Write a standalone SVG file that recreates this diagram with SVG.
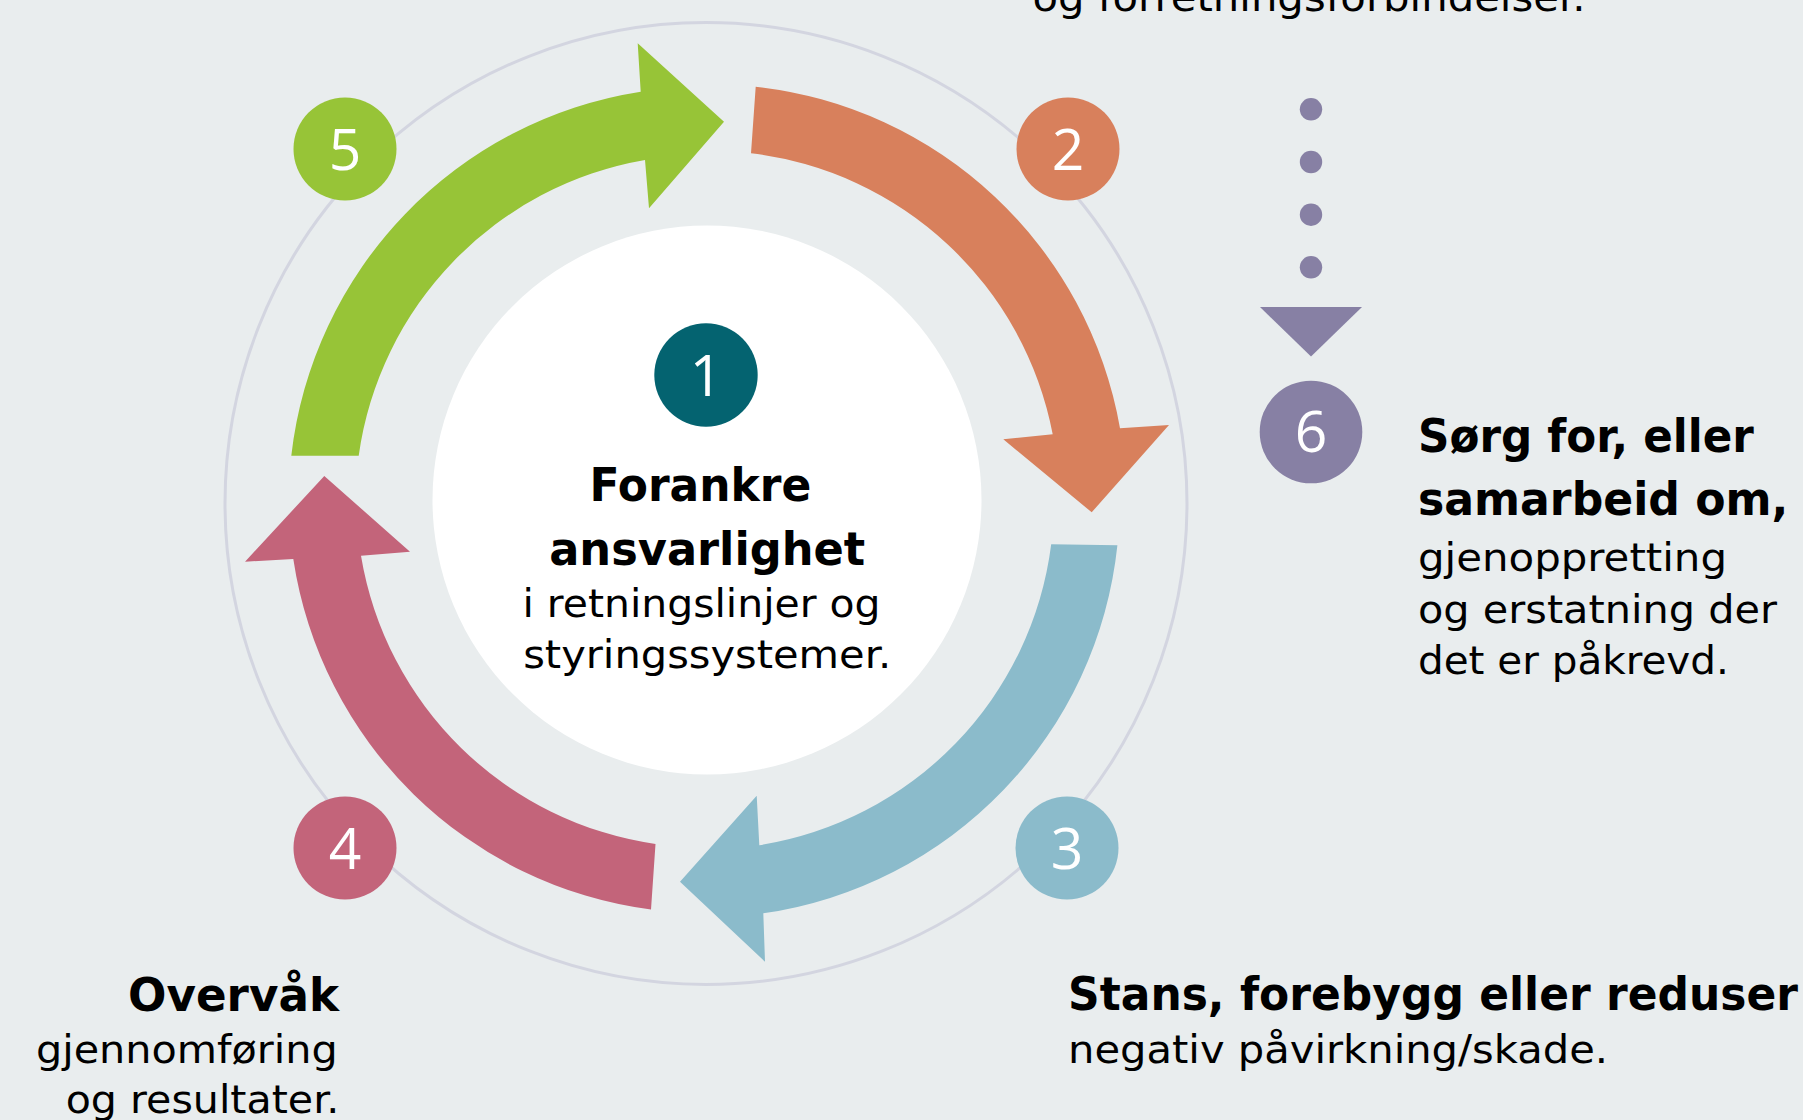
<svg xmlns="http://www.w3.org/2000/svg" width="1803" height="1120" viewBox="0 0 1803 1120">
  <style>
    .bg { fill: #E9EDEE; }
    .ring { fill: none; stroke: #D3D5E0; stroke-width: 3; }
    .hub { fill: #FFFFFF; }
    .num { font-family: "Open Sans", "DejaVu Sans", sans-serif; font-size: 57px; font-weight: 500; fill: #FFFFFF; text-anchor: middle; }
    .b { font-family: "DejaVu Sans", "Liberation Sans", sans-serif; font-weight: bold; font-size: 47px; fill: #000000; }
    .r { font-family: "DejaVu Sans", "Liberation Sans", sans-serif; font-size: 39px; fill: #000000; }
    .dot { fill: #8780A4; }
  </style>
  <rect class="bg" x="0" y="0" width="1803" height="1120"/>
  <circle class="ring" cx="706" cy="503.5" r="481"/>
  <circle class="hub" cx="707" cy="500" r="274.5"/>

  <g id="connectors">
    <path id="arrow-1-2" fill="#D8805C" d="M 755.7 86.7 A 416 416 0 0 1 1120 428.3 L 1169 425 L 1091.7 512.3 L 1003.3 439.3 L 1052.7 434.3 A 349 349 0 0 0 751 153.3 Z"/>
    <path id="arrow-2-3" fill="#8BBBCB" d="M 1117.4 545.3 A 416 416 0 0 1 763.3 913.3 L 765 961.7 L 680 881.7 L 756.7 795.7 L 759.3 845.3 A 349 349 0 0 0 1051.2 544.3 Z"/>
    <path id="arrow-3-4" fill="#C3647A" d="M 651 909.6 A 416 416 0 0 1 293.3 559 L 245 561.7 L 324.3 476 L 410 551.7 L 361 555.7 A 349 349 0 0 0 655.5 844 Z"/>
    <path id="arrow-4-5" fill="#97C437" d="M 291.3 455.7 A 416 416 0 0 1 640.7 91.7 L 637.7 43.3 L 724 121.7 L 649 208.3 L 645 160 A 349 349 0 0 0 358.7 455.7 Z"/>
    <g id="dotted-to-6">
      <circle class="dot" cx="1311" cy="109.3" r="11.2"/>
      <circle class="dot" cx="1311" cy="162" r="11.2"/>
      <circle class="dot" cx="1311" cy="214.7" r="11.2"/>
      <circle class="dot" cx="1311" cy="267.3" r="11.2"/>
      <polygon class="dot" points="1260,307 1362,307 1311,356.5"/>
    </g>
  </g>

  <g id="top-text">
    <text class="r" x="1032.5" y="11" textLength="553" lengthAdjust="spacingAndGlyphs">og forretningsforbindelser.</text>
  </g>

  <g id="node-1">
    <circle cx="706" cy="375" r="51.7" fill="#046370"/>
    <text class="num" x="706" y="396">1</text>
    <text class="b" x="589.4" y="501" textLength="222" lengthAdjust="spacingAndGlyphs">Forankre</text>
    <text class="b" x="549.2" y="565" textLength="316" lengthAdjust="spacingAndGlyphs">ansvarlighet</text>
    <text class="r" x="522.5" y="616.7" textLength="358" lengthAdjust="spacingAndGlyphs">i retningslinjer og</text>
    <text class="r" x="523.2" y="668.3" textLength="368" lengthAdjust="spacingAndGlyphs">styringssystemer.</text>
  </g>

  <g id="node-2">
    <circle cx="1068" cy="149" r="51.5" fill="#D8805C"/>
    <text class="num" x="1068" y="170">2</text>
  </g>

  <g id="node-3">
    <circle cx="1067" cy="848" r="51.5" fill="#8BBBCB"/>
    <text class="num" x="1067" y="869">3</text>
    <text class="b" x="1068" y="1010" textLength="730" lengthAdjust="spacingAndGlyphs">Stans, forebygg eller reduser</text>
    <text class="r" x="1068" y="1063.3" textLength="540" lengthAdjust="spacingAndGlyphs">negativ påvirkning/skade.</text>
  </g>

  <g id="node-4">
    <circle cx="345" cy="848" r="51.5" fill="#C3647A"/>
    <text class="num" x="345" y="869">4</text>
    <text class="b" x="128" y="1010.7" textLength="211" lengthAdjust="spacingAndGlyphs">Overvåk</text>
    <text class="r" x="36" y="1063.3" textLength="301.7" lengthAdjust="spacingAndGlyphs">gjennomføring</text>
    <text class="r" x="65.7" y="1113.3" textLength="273.7" lengthAdjust="spacingAndGlyphs">og resultater.</text>
  </g>

  <g id="node-5">
    <circle cx="345" cy="149" r="51.5" fill="#97C437"/>
    <text class="num" x="345" y="170">5</text>
  </g>

  <g id="node-6">
    <circle cx="1311" cy="432" r="51.3" fill="#8780A4"/>
    <text class="num" x="1311" y="452">6</text>
    <text class="b" x="1418" y="451.7" textLength="335.8" lengthAdjust="spacingAndGlyphs">Sørg for, eller</text>
    <text class="b" x="1418" y="515" textLength="370.4" lengthAdjust="spacingAndGlyphs">samarbeid om,</text>
    <text class="r" x="1418" y="570.5" textLength="309" lengthAdjust="spacingAndGlyphs">gjenoppretting</text>
    <text class="r" x="1418" y="622.5" textLength="359" lengthAdjust="spacingAndGlyphs">og erstatning der</text>
    <text class="r" x="1418" y="673.5" textLength="310.8" lengthAdjust="spacingAndGlyphs">det er påkrevd.</text>
  </g>
</svg>
